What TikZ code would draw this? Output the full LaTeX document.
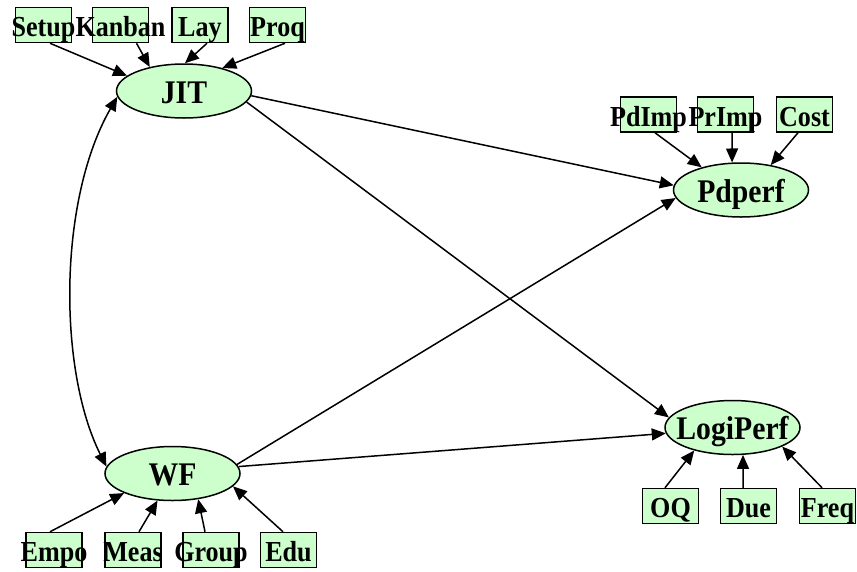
\documentclass[tikz,border=0pt]{standalone}
\usepackage{fontspec}
\setmainfont{Liberation Serif}
\newfontfamily\narrowserif[FakeStretch=0.9]{Liberation Serif}
\usetikzlibrary{shapes.geometric,arrows.meta}
\definecolor{lightgreen}{RGB}{204,255,204}
\newcommand{\nolen}[1]{\makebox[0pt]{#1}}

\begin{document}
\begin{tikzpicture}[x=1pt,y=-1pt,font=\narrowserif\fontsize{29}{32}\selectfont\bfseries,
    >={Triangle[length=14pt,width=12pt]}]
      \tikzstyle{latent}=[ellipse,draw,line width=1.5pt,fill=lightgreen,minimum width=135pt,minimum height=54pt,inner sep=0pt,text height=24pt,text depth=0pt,font=\narrowserif\fontsize{33}{36}\selectfont\bfseries]
      \tikzstyle{observed}=[rectangle,draw,line width=1.5pt,fill=lightgreen,minimum width=56pt,minimum height=35pt,inner sep=0pt,text height=23pt,text depth=0pt]
      \tikzstyle{effect}=[->,line width=1.5pt]

      \useasboundingbox (0,0) rectangle (857,571);

      \node(jit)[latent] at (184,91) {\nolen{JIT}};
      \node(wf)[latent] at (172.5,473.5) {\nolen{WF}};
      \node(pdperf)[latent] at (741,190) {\nolen{Pdperf}};
      \node(logiperf)[latent] at (732.5,427.5) {\nolen{LogiPerf}};

      \node(setup)[observed] at (43.5,25) {\nolen{Setup}};
      \node(kanban)[observed] at (120.5,25) {\nolen{Kanban}};
      \node(lay)[observed] at (200,25) {\nolen{Lay}};
      \node(proq)[observed] at (277.5,25) {\nolen{Proq}};

      \node(pdimp)[observed] at (648.5,114.5) {\nolen{PdImp}};
      \node(primp)[observed] at (725.5,114.5) {\nolen{PrImp}};
      \node(cost)[observed] at (804.5,114.5) {\nolen{Cost}};

      \node(empo)[observed] at (54,550) {\nolen{Empo}};
      \node(meas)[observed] at (133,550) {\nolen{Meas}};
      \node(group)[observed] at (211,550) {\nolen{Group}};
      \node(edu)[observed] at (288.5,550) {\nolen{Edu}};

      \node(oq)[observed] at (670.5,506) {\nolen{OQ}};
      \node(due)[observed] at (748.5,506) {\nolen{Due}};
      \node(freq)[observed] at (827.5,506) {\nolen{Freq}};

      \draw[effect] ([xshift=6.5pt]setup.south) -- (jit.165);
      \draw[effect] ([xshift=16pt]kanban.south) -- (jit.145);
      \draw[effect] ([xshift=7pt]lay.south) -- (jit.88);
      \draw[effect] ([xshift=7.5pt]proq.south) -- (jit.31);

      \draw[effect] ([xshift=6.5pt]pdimp.south) -- (pdperf.150);
      \draw[effect] ([xshift=6.5pt]primp.south) -- (pdperf.108);
      \draw[effect] ([xshift=-6.5pt]cost.south) -- (pdperf.40);

      \draw[effect] ([xshift=-4pt]empo.north) -- (wf.202);
      \draw[effect] ([xshift=6pt]meas.north) -- (wf.241);
      \draw[effect] ([xshift=-6pt]group.north) -- (wf.315);
      \draw[effect] ([xshift=-5.5pt]edu.north) -- (wf.348);

      \draw[effect] ([xshift=-5.5pt]oq.north) -- (logiperf.211);
      \draw[effect] ([xshift=-5.5pt]due.north) -- (logiperf.291);
      \draw[effect] ([xshift=-5.5pt]freq.north) -- (logiperf.339);

      \draw[effect] (jit.356) -- (pdperf.176);
      \draw[effect] (jit.350) -- (logiperf.171);
      \draw[effect] (wf.8) -- (pdperf.187);
      \draw[effect] (wf.6) -- (logiperf.185);
      \draw[effect,<->] (jit.185) .. controls (58,200) and (58,370) .. (wf.174);
\end{tikzpicture}
\end{document}
